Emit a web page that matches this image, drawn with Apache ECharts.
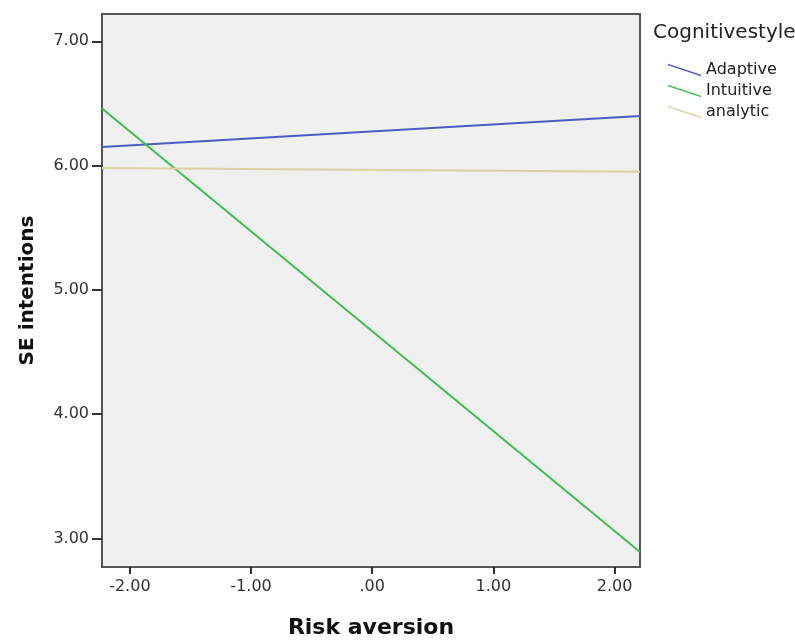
<!DOCTYPE html>
<html><head><meta charset="utf-8">
<script src="https://cdn.jsdelivr.net/npm/echarts@6/dist/echarts.min.js"></script>
<style>html,body{margin:0;padding:0;background:#fff}#c{width:795px;height:641px}</style>
</head><body><div id="c"></div>
<script>
const xValues = [-2.23, 2.21];
const adaptive = [6.15, 6.40];
const intuitive = [6.46, 2.89];
const analytic = [5.98, 5.95];
const seriesNames = ['Adaptive', 'Intuitive', 'analytic'];
const xTicks = [-2, -1, 0, 1, 2];
const yTicks = [3, 4, 5, 6, 7];

const colors = ['#4a5cc0', '#3cbf4c', '#d9d2a3'];
const pairs = v => xValues.map((x, i) => [x, v[i]]);
const fmtX = v => { let s = Number(v).toFixed(2); return s.replace(/^0\./, '.').replace(/^-0\.00$/, '.00'); };
const font = '"DejaVu Sans", Verdana, sans-serif';
const icon = 'path://M0,0 L33,11 L33,12.4 L0,1.4 Z';

const chart = echarts.init(document.getElementById('c'), null, {renderer: 'canvas'});
chart.setOption({
  animation: false,
  grid: {left: 102, right: 155, top: 14, bottom: 74, outerBoundsMode: 'none', containLabel: false, show: true, backgroundColor: '#f0f0f0', borderColor: '#555', borderWidth: 2},
  xAxis: {
    type: 'value', min: -2.23, max: 2.21,
    name: 'Risk aversion', nameLocation: 'middle', nameGap: 50,
    nameTextStyle: {fontFamily: font, fontSize: 22, fontWeight: 'bold', color: '#111'},
    axisLine: {show: true, onZero: false, lineStyle: {color: '#555', width: 2}},
    axisTick: {show: true, length: 7, customValues: xTicks, lineStyle: {color: '#333', width: 2}},
    axisLabel: {customValues: xTicks, formatter: fmtX, fontFamily: font, fontSize: 16, color: '#333', margin: 12},
    splitLine: {show: false}
  },
  yAxis: {
    type: 'value', min: 2.77, max: 7.22,
    name: 'SE intentions', nameLocation: 'middle', nameGap: 64, nameRotate: 90,
    nameTextStyle: {fontFamily: font, fontSize: 20, fontWeight: 'bold', color: '#111'},
    axisLine: {show: true, onZero: false, lineStyle: {color: '#555', width: 2}},
    axisTick: {show: true, length: 10, customValues: yTicks, lineStyle: {color: '#333', width: 2}},
    axisLabel: {customValues: yTicks, formatter: v => Number(v).toFixed(2), fontFamily: font, fontSize: 16, color: '#333', margin: 13},
    splitLine: {show: false}
  },
  legend: {
    orient: 'vertical', left: 663, top: 57, itemGap: 5, itemWidth: 33, itemHeight: 13,
    data: seriesNames.map(n => ({name: n, icon: icon})),
    textStyle: {fontFamily: font, fontSize: 16, color: '#222'}
  },
  graphic: [{type: 'text', left: 653, top: 23, style: {text: 'Cognitivestyle', font: '20px ' + font, fill: '#222'}}],
  series: [
    {name: seriesNames[0], type: 'line', data: pairs(adaptive), color: colors[0], showSymbol: false, lineStyle: {width: 2}},
    {name: seriesNames[1], type: 'line', data: pairs(intuitive), color: colors[1], showSymbol: false, lineStyle: {width: 2}},
    {name: seriesNames[2], type: 'line', data: pairs(analytic), color: colors[2], showSymbol: false, lineStyle: {width: 2}}
  ]
});
</script></body></html>
